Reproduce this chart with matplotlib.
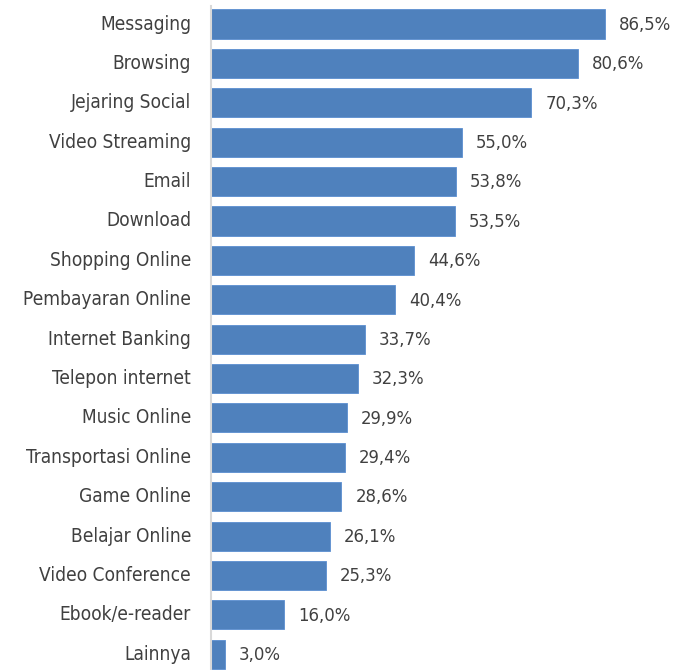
import matplotlib
matplotlib.use("Agg")
import matplotlib.pyplot as plt
from matplotlib.transforms import offset_copy

categories = [
    "Messaging", "Browsing", "Jejaring Social", "Video Streaming", "Email",
    "Download", "Shopping Online", "Pembayaran Online", "Internet Banking",
    "Telepon internet", "Music Online", "Transportasi Online", "Game Online",
    "Belajar Online", "Video Conference", "Ebook/e-reader", "Lainnya",
]
values = [86.5, 80.6, 70.3, 55.0, 53.8, 53.5, 44.6, 40.4, 33.7,
          32.3, 29.9, 29.4, 28.6, 26.1, 25.3, 16.0, 3.0]

FONT = ["DejaVu Sans"]
TEXT_COLOR = "#404040"
BAR_COLOR = "#4F81BD"

fig = plt.figure(figsize=(6.83, 6.70), dpi=100)
ax = fig.add_axes([211 / 683, 0.0, 1 - 211 / 683, 1.0])

ypos = list(range(len(categories)))
ax.barh(ypos, values, height=0.74, color=BAR_COLOR, edgecolor="#5B8FD0",
        linewidth=0.6)

ax.set_xlim(0, (683 - 211) / 4.555)
ax.set_ylim(16.40, -0.61)

for s in ["top", "right", "bottom"]:
    ax.spines[s].set_visible(False)
ax.spines["left"].set_color("#D9D9D9")
ax.spines["left"].set_linewidth(1.5)
ax.spines["left"].set_bounds(-0.47, 16.40)
ax.set_xticks([])
ax.set_yticks([])

lab_tr = offset_copy(ax.transData, fig=fig, x=-20, y=0, units="dots")
val_tr = offset_copy(ax.transData, fig=fig, x=14, y=0, units="dots")
for y, (cat, v) in enumerate(zip(categories, values)):
    ax.text(0, y, cat, transform=lab_tr, ha="right", va="center",
            fontsize=13.7, color=TEXT_COLOR, family=FONT,
            fontstretch="condensed", clip_on=False)
    ax.text(v, y + 0.02, f"{v:.1f}%".replace(".", ","), transform=val_tr,
            ha="left", va="center", fontsize=13.2, color=TEXT_COLOR,
            family=FONT, fontstretch="condensed", clip_on=False)

fig.savefig("out.png", dpi=100)
